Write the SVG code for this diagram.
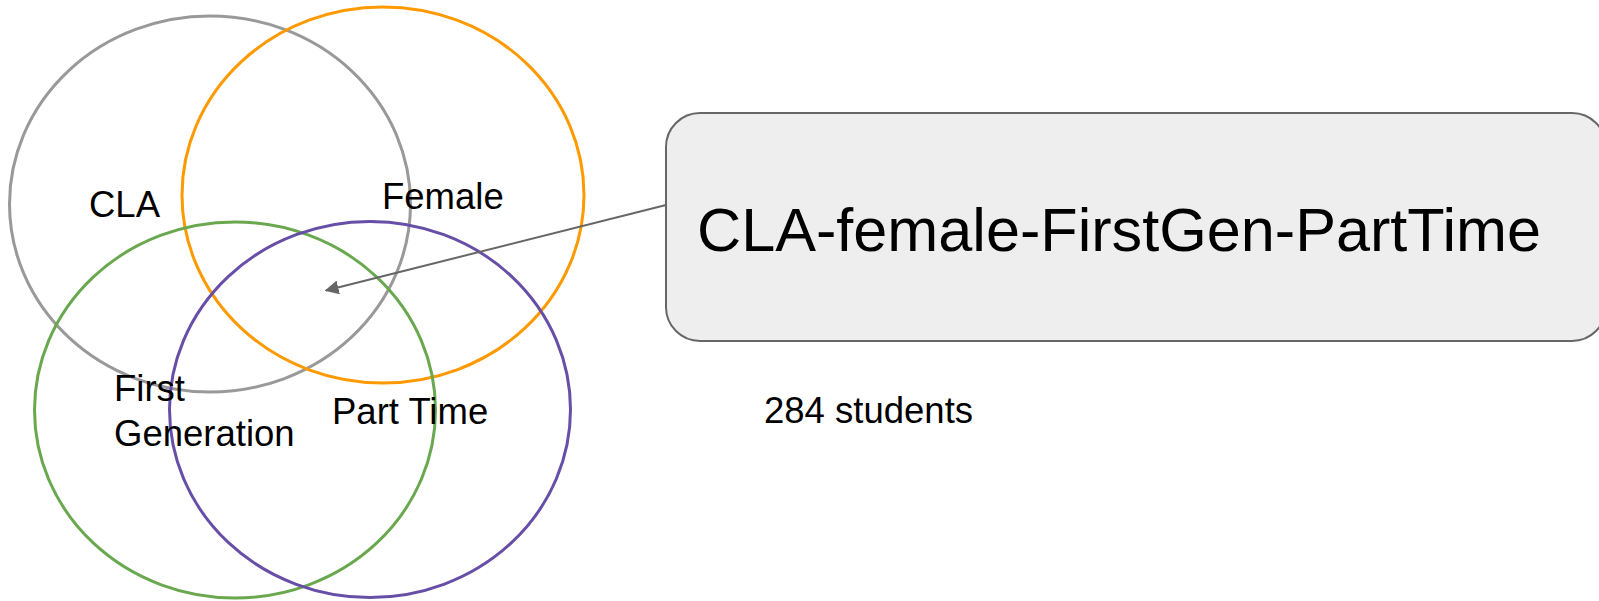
<svg xmlns="http://www.w3.org/2000/svg" width="1599" height="601" viewBox="0 0 1599 601">
<style>
.set{fill:none;stroke-width:3}
.lbl{font-family:"Liberation Sans",Arial,sans-serif;font-size:36.5px;fill:#000}
.big{font-family:"Liberation Sans",Arial,sans-serif;font-size:61px;fill:#000}
</style>
<defs>
<marker id="ah" viewBox="0 0 10 10" refX="9" refY="5" markerWidth="7" markerHeight="7" markerUnits="strokeWidth" orient="auto">
<path d="M0,0 L10,5 L0,10 z" fill="#666"/>
</marker>
</defs>
<rect width="1599" height="601" fill="#fff"/>
<g id="cla"><ellipse class="set" cx="210" cy="204" rx="200.5" ry="188" stroke="#999999"/></g>
<g id="female"><ellipse class="set" cx="383" cy="195" rx="201" ry="188" stroke="#ff9900"/></g>
<g id="firstgen"><ellipse class="set" cx="235" cy="410" rx="200.5" ry="188" stroke="#6aa84f"/></g>
<g id="parttime"><ellipse class="set" cx="370" cy="409.5" rx="200.5" ry="188" stroke="#674ea7"/></g>
<g id="labels">
<text class="lbl" x="89" y="217">CLA</text>
<text class="lbl" x="382" y="209">Female</text>
<text class="lbl" x="114" y="401">First</text>
<text class="lbl" x="114" y="446">Generation</text>
<text class="lbl" x="332" y="423.5">Part Time</text>
</g>
<g id="box">
<rect x="666" y="113" width="940" height="228" rx="34" ry="34" fill="#eeeeee" stroke="#666" stroke-width="2"/>
<text class="big" x="697" y="251" textLength="844" lengthAdjust="spacingAndGlyphs">CLA-female-FirstGen-PartTime</text>
</g>
<g id="count"><text class="lbl" x="764" y="422.5">284 students</text></g>
<g id="connectors">
<line x1="666" y1="205" x2="326" y2="290.5" stroke="#666" stroke-width="2" marker-end="url(#ah)"/>
</g>
</svg>
